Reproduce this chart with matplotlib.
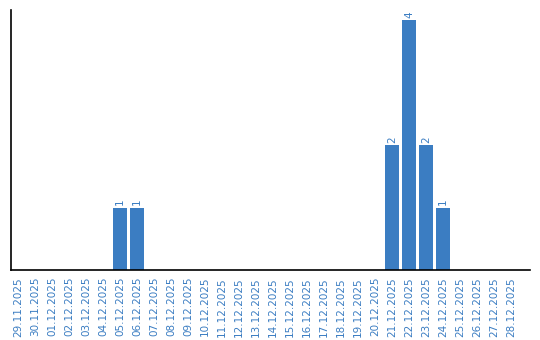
import matplotlib
matplotlib.use("Agg")
import matplotlib.pyplot as plt

dates = ["29.11.2025", "30.11.2025", "01.12.2025", "02.12.2025", "03.12.2025",
         "04.12.2025", "05.12.2025", "06.12.2025", "07.12.2025", "08.12.2025",
         "09.12.2025", "10.12.2025", "11.12.2025", "12.12.2025", "13.12.2025",
         "14.12.2025", "15.12.2025", "16.12.2025", "17.12.2025", "18.12.2025",
         "19.12.2025", "20.12.2025", "21.12.2025", "22.12.2025", "23.12.2025",
         "24.12.2025", "25.12.2025", "26.12.2025", "27.12.2025", "28.12.2025"]
counts = [0, 0, 0, 0, 0, 0, 1, 1, 0, 0, 0, 0, 0, 0, 0,
          0, 0, 0, 0, 0, 0, 0, 2, 4, 2, 1, 0, 0, 0, 0]

blue = "#3b7dc2"

fig = plt.figure(figsize=(5.4, 3.4), dpi=100)
ax = fig.add_axes([11 / 540, 70 / 340, 519 / 540, 260 / 340])

x = list(range(len(dates)))
ax.bar(x, counts, width=0.82, color=blue)
for xi, c in zip(x, counts):
    if c > 0:
        ax.text(xi, c + 0.04, str(c), rotation=90, ha="center", va="bottom",
                color=blue, fontsize=7.5)

ax.set_xlim(-0.41, 30.1)
ax.set_ylim(0, 4.16)
ax.set_xticks(x)
ax.set_xticklabels(dates, rotation=90, color=blue, fontsize=7.5)
ax.tick_params(axis="x", length=0, pad=5)
ax.set_yticks([])
ax.spines["top"].set_visible(False)
ax.spines["right"].set_visible(False)
ax.spines["left"].set_linewidth(1.2)
ax.spines["bottom"].set_linewidth(1.2)

fig.savefig("out.png", dpi=100)
